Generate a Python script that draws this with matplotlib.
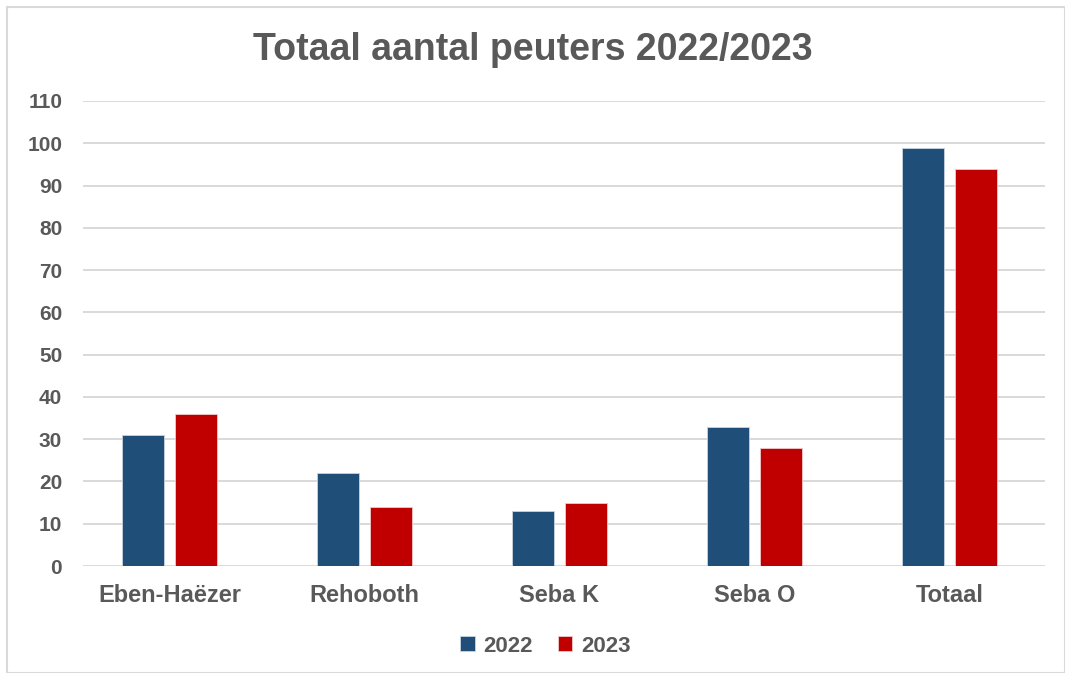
import numpy as np
import matplotlib.pyplot as plt
from matplotlib.patches import Rectangle

# data
categories = ['Eben-Haëzer', 'Rehoboth', 'Seba K', 'Seba O', 'Totaal']
values_2022 = [31, 22, 13, 33, 99]
values_2023 = [36, 14, 15, 28, 94]
series_labels = ['2022', '2023']
y_ticks = list(range(0, 111, 10))

blue = '#1F4E79'
red = '#C00000'
grey = '#595959'

plt.rcParams['font.family'] = ['Liberation Sans', 'DejaVu Sans']
plt.rcParams['font.weight'] = 'bold'

fig = plt.figure(figsize=(10.65, 6.73), dpi=100)
ax = fig.add_axes([83 / 1065, 1 - 566 / 673, (1045 - 83) / 1065, (566 - 101) / 673])

x = np.arange(len(categories))
w = 0.215
off = 0.135
ax.bar(x - off, values_2022, w, color=blue, edgecolor='#c8d3df', linewidth=0.6,
       label=series_labels[0], zorder=3)
ax.bar(x + off, values_2023, w, color=red, edgecolor='#f0c8c8', linewidth=0.6,
       label=series_labels[1], zorder=3)

ax.set_xlim(-0.444, 4.49)
ax.set_ylim(0, 110)
ax.set_yticks(y_ticks)
ax.set_xticks(x)
ax.set_xticklabels(categories)
ax.tick_params(axis='y', length=0, pad=15, labelsize=15, labelcolor=grey)
ax.tick_params(axis='x', length=0, pad=13, labelsize=17, labelcolor=grey)
ax.grid(axis='y', color='#D9D9D9', linewidth=1.4, zorder=0)
for s in ax.spines.values():
    s.set_visible(False)

# title is slightly condensed in the original
fig.text(0.5, 0.926, 'Totaal aantal peuters 2022/2023', ha='center', va='center',
         fontsize=27, color=grey, fontweight='bold', fontstretch='condensed')

leg = fig.legend(loc='center', bbox_to_anchor=(0.512, 0.04), ncol=2, frameon=False,
                 fontsize=16, handlelength=0.65, handleheight=0.65, handletextpad=0.4,
                 columnspacing=1.1)
for t in leg.get_texts():
    t.set_color(grey)

fig.patches.append(Rectangle((7 / 1065, 0), 1 - 7 / 1065, 1 - 7 / 673,
                             transform=fig.transFigure, fill=False,
                             edgecolor='#D9D9D9', linewidth=1.5))

fig.savefig('out.png', dpi=100)
